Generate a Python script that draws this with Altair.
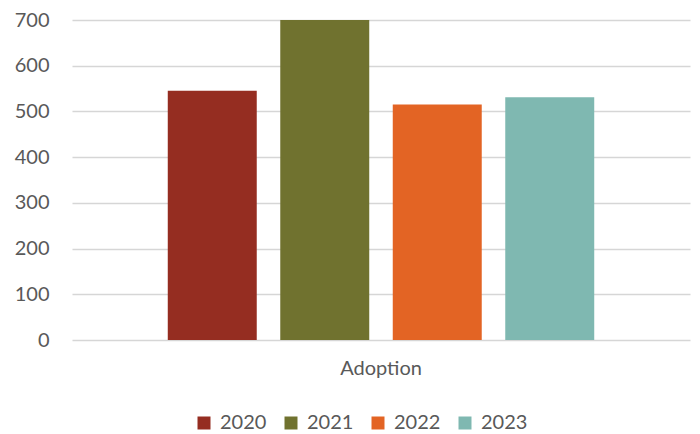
import altair as alt
import pandas as pd

categories = ["Adoption"]
years = ["2020", "2021", "2022", "2023"]
values = [545, 700, 515, 531]
colors = ["#952d21", "#70722f", "#e36424", "#7fb8b1"]

df = pd.DataFrame({
    "category": categories * len(years),
    "year": years,
    "value": values,
})

FONT = "Lato"
TXT = "#595959"

chart = alt.Chart(df).mark_bar().encode(
    x=alt.X("category:N", title=None,
            scale=alt.Scale(paddingInner=0, paddingOuter=0.1867),
            axis=alt.Axis(labelAngle=0, tickSize=0, domain=False, labelPadding=18,
                          labelFontSize=20, labelFont=FONT, labelColor=TXT)),
    xOffset=alt.XOffset("year:N", scale=alt.Scale(paddingInner=0.209, paddingOuter=0.1045)),
    y=alt.Y("value:Q", title=None,
            scale=alt.Scale(domain=[0, 700], nice=False),
            axis=alt.Axis(values=[0, 100, 200, 300, 400, 500, 600, 700], tickSize=0,
                          domain=False, labelPadding=23, labelFontSize=20,
                          labelFont=FONT, labelColor=TXT,
                          gridColor="#d6d6d6", gridWidth=1.5)),
    color=alt.Color("year:N", scale=alt.Scale(domain=years, range=colors),
                    legend=alt.Legend(title=None, orient="none", direction="horizontal",
                                      legendX=122, legendY=393,
                                      symbolType="square", symbolSize=169,
                                      symbolStrokeWidth=0, symbolOpacity=1,
                                      labelFontSize=20, labelFont=FONT, labelColor=TXT,
                                      labelOffset=6, columnPadding=14)),
).properties(
    width=618, height=320,
    autosize=alt.AutoSizeParams(type="none"),
    padding={"left": 64, "top": 12, "right": 2, "bottom": 94},
).configure_view(stroke=None).configure_bar(opacity=1)

chart.save("out.html", embed_options={"renderer": "svg", "actions": False})
